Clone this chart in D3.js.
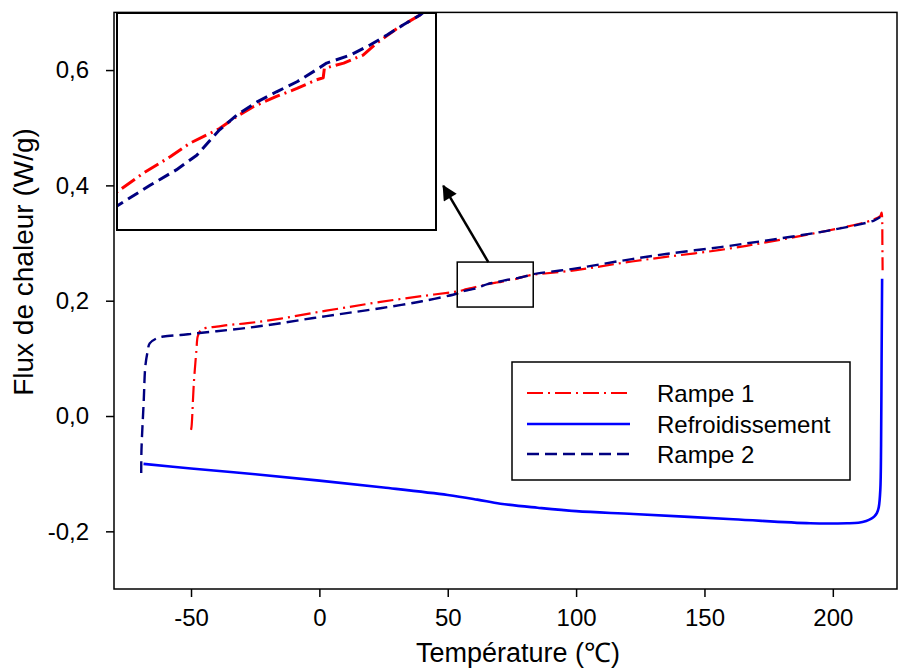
<!DOCTYPE html>
<html>
<head>
<meta charset="utf-8">
<script src="https://cdn.jsdelivr.net/npm/d3@7/dist/d3.min.js"></script>
<style>
  html, body { margin: 0; padding: 0; background: #fff; }
  svg { display: block; }
  text { font-family: "Liberation Sans", Arial, sans-serif; fill: #000; }
</style>
</head>
<body>
<svg id="chart" width="900" height="669"></svg>
<script>
// ---------------- data ----------------
const seriesNames = ["Rampe 1", "Refroidissement", "Rampe 2"];

const rampe1Temp = [-50.0, -49.8, -48.9, -47.9, -47.4, -46.5, -45.5, -44.0, -40.0, -35.0, -28.0, -15.0, -2.3, 10.0, 23.8, 40.0, 53.7,
  55.0, 57.3, 59.7, 61.4, 63.2, 64.0, 65.5, 67.0, 69.0, 70.8, 72.5, 73.1, 73.2, 74.9, 76.6, 77.8, 79.6, 81.6, 83.3,
  100, 117.2, 135, 156.2, 175, 195.1, 210, 216, 218.5, 219.0, 219.2, 219.3, 219.4];
const rampe1Flux = [-0.024, -0.019, 0.057, 0.114, 0.138, 0.147, 0.151, 0.153, 0.155, 0.158, 0.161, 0.169, 0.179, 0.188, 0.198, 0.208, 0.216,
  0.2172, 0.2200, 0.2225, 0.2245, 0.2260, 0.2267, 0.2285, 0.2300, 0.2315, 0.2327, 0.2340, 0.2343, 0.2357, 0.2365, 0.2377, 0.2395, 0.2417, 0.2437, 0.245,
  0.253, 0.265, 0.276, 0.288, 0.302, 0.319, 0.333, 0.341, 0.347, 0.353, 0.345, 0.300, 0.253];

const coolTemp = [219.2, 219.0, 218.8, 218.5, 217.9, 217.2, 216.2, 215.0, 213.0, 210.0, 205.6, 191.2, 161.2, 122.3, 100, 85, 70.5, 61.5,
  50, 25, 0, -25, -50, -68.5];
const coolFlux = [0.238, 0.100, -0.050, -0.128, -0.158, -0.168, -0.174, -0.178, -0.182, -0.185, -0.186, -0.186, -0.179, -0.170, -0.165, -0.159, -0.152, -0.145,
  -0.137, -0.124, -0.112, -0.101, -0.091, -0.083];

const rampe2Temp = [-69.4, -69.3, -68.4, -67.8, -66.9, -66.1, -63.2, -60.6, -54.1, -48.9, -40, -28, -15, -2.3, 10, 23.8, 40, 53.7,
  55.0, 57.9, 60.2, 62.0, 63.2, 64.0, 65.5, 67.3, 69.0, 70.8, 72.5, 73.4, 75.5, 77.2, 78.7, 80.1, 81.6, 83.3,
  100, 117.2, 135, 156.2, 175, 195.1, 210, 216, 218.5];
const rampe2Flux = [-0.099, -0.059, 0.028, 0.086, 0.112, 0.126, 0.135, 0.138, 0.1405, 0.143, 0.147, 0.153, 0.161, 0.170, 0.178, 0.187, 0.199, 0.2125,
  0.2151, 0.2182, 0.2205, 0.2227, 0.2250, 0.2265, 0.2287, 0.2307, 0.2322, 0.2337, 0.2355, 0.2365, 0.2377, 0.2392, 0.2407, 0.2422, 0.2437, 0.246,
  0.256, 0.269, 0.281, 0.293, 0.305, 0.319, 0.332, 0.339, 0.345];

const xTicks = [-50, 0, 50, 100, 150, 200];
const yTicks = [-0.2, 0.0, 0.2, 0.4, 0.6];
const xDomain = [-80, 225];
const yDomain = [-0.3, 0.7];

// zoomed region (main-chart data coordinates) and inset domains
const zoomBoxT = [53.7, 83.3];
const zoomBoxFlux = [0.189, 0.267];
const insetXDomain = [55, 83];
const insetYDomain = [0.2115, 0.244];
const arrowFrom = [65.8, 0.267];
const arrowTo = [48.3, 0.399];

// ---------------- layout ----------------
const svg = d3.select("#chart");
const plot = { left: 114, right: 897, top: 12.4, bottom: 589 };
const inset = { left: 117, right: 436, top: 13, bottom: 230 };

const x = d3.scaleLinear().domain(xDomain).range([plot.left, plot.right]);
const y = d3.scaleLinear().domain(yDomain).range([plot.bottom, plot.top]);
const xi = d3.scaleLinear().domain(insetXDomain).range([inset.left, inset.right]);
const yi = d3.scaleLinear().domain(insetYDomain).range([inset.bottom, inset.top]);

const zip = (a, b) => a.map((v, i) => [v, b[i]]);
const series = [
  { name: seriesNames[0], data: zip(rampe1Temp, rampe1Flux), color: "#ff0000", dash: "16,5,2,5", width: 2.2 },
  { name: seriesNames[1], data: zip(coolTemp, coolFlux), color: "#0000ff", dash: null, width: 2.6 },
  { name: seriesNames[2], data: zip(rampe2Temp, rampe2Flux), color: "#000080", dash: "12,6", width: 2.4 }
];

const defs = svg.append("defs");
defs.append("clipPath").attr("id", "clipMain").append("rect")
  .attr("x", plot.left).attr("y", plot.top).attr("width", plot.right - plot.left).attr("height", plot.bottom - plot.top);
defs.append("clipPath").attr("id", "clipInset").append("rect")
  .attr("x", inset.left).attr("y", inset.top).attr("width", inset.right - inset.left).attr("height", inset.bottom - inset.top);
defs.append("marker").attr("id", "arrowHead").attr("viewBox", "0 0 10 10")
  .attr("refX", 9).attr("refY", 5).attr("markerWidth", 7).attr("markerHeight", 6)
  .attr("markerUnits", "strokeWidth").attr("orient", "auto")
  .append("path").attr("d", "M0,0 L10,5 L0,10 Z").attr("fill", "#000");

// main lines
const lineMain = d3.line().curve(d3.curveCatmullRom.alpha(0.5)).x(d => x(d[0])).y(d => y(d[1]));
const gMain = svg.append("g").attr("clip-path", "url(#clipMain)");
series.forEach(s => {
  gMain.append("path").attr("d", lineMain(s.data))
    .attr("fill", "none").attr("stroke", s.color).attr("stroke-width", s.width)
    .attr("stroke-dasharray", s.dash).attr("stroke-linejoin", "round");
});

// axes
const fmt = v => d3.format(".1f")(v).replace(".", ",").replace("−", "-");
const xAxis = svg.append("g").attr("transform", `translate(0,${plot.bottom})`)
  .call(d3.axisBottom(x).tickValues(xTicks).tickSize(8).tickSizeOuter(0).tickPadding(12).tickFormat(d => String(d)));
const yAxis = svg.append("g").attr("transform", `translate(${plot.left},0)`)
  .call(d3.axisLeft(y).tickValues(yTicks).tickSize(8).tickSizeOuter(0).tickPadding(17).tickFormat(fmt));
[xAxis, yAxis].forEach(g => {
  g.select(".domain").remove();
  g.selectAll("line").attr("stroke", "#000").attr("stroke-width", 1.5);
  g.selectAll("text").attr("font-size", 24).attr("font-family", "Liberation Sans, Arial, sans-serif").attr("fill", "#000");
});

// frame
svg.append("rect").attr("x", plot.left).attr("y", plot.top)
  .attr("width", plot.right - plot.left).attr("height", plot.bottom - plot.top)
  .attr("fill", "none").attr("stroke", "#000").attr("stroke-width", 1.5);

// axis titles
svg.append("text").attr("x", 518).attr("y", 662)
  .attr("text-anchor", "middle").attr("font-size", 27).text("Température (℃)");
svg.append("text").attr("transform", `translate(33,262) rotate(-90)`)
  .attr("text-anchor", "middle").attr("font-size", 28).text("Flux de chaleur (W/g)");

// zoom box and arrow
svg.append("rect").attr("x", x(zoomBoxT[0])).attr("y", y(zoomBoxFlux[1]))
  .attr("width", x(zoomBoxT[1]) - x(zoomBoxT[0])).attr("height", y(zoomBoxFlux[0]) - y(zoomBoxFlux[1]))
  .attr("fill", "none").attr("stroke", "#000").attr("stroke-width", 1.5);
svg.append("line").attr("x1", x(arrowFrom[0])).attr("y1", y(arrowFrom[1]))
  .attr("x2", x(arrowTo[0])).attr("y2", y(arrowTo[1]))
  .attr("stroke", "#000").attr("stroke-width", 2.5).attr("marker-end", "url(#arrowHead)");

// inset
svg.append("rect").attr("x", inset.left).attr("y", inset.top)
  .attr("width", inset.right - inset.left).attr("height", inset.bottom - inset.top)
  .attr("fill", "#fff");
const lineInset = d3.line().x(d => xi(d[0])).y(d => yi(d[1]));
const gInset = svg.append("g").attr("clip-path", "url(#clipInset)");
[series[0], series[2]].forEach(s => {
  gInset.append("path").attr("d", lineInset(s.data))
    .attr("fill", "none").attr("stroke", s.color).attr("stroke-width", 3)
    .attr("stroke-dasharray", s.dash).attr("stroke-linejoin", "round");
});
svg.append("rect").attr("x", inset.left).attr("y", inset.top)
  .attr("width", inset.right - inset.left).attr("height", inset.bottom - inset.top)
  .attr("fill", "none").attr("stroke", "#000").attr("stroke-width", 2);

// legend
const leg = { left: 512, top: 362, right: 850, bottom: 480 };
svg.append("rect").attr("x", leg.left).attr("y", leg.top)
  .attr("width", leg.right - leg.left).attr("height", leg.bottom - leg.top)
  .attr("fill", "#fff").attr("stroke", "#000").attr("stroke-width", 1.5);
const legRowsY = [393, 424, 454];
series.forEach((s, i) => {
  svg.append("line").attr("x1", 527).attr("x2", 630).attr("y1", legRowsY[i]).attr("y2", legRowsY[i])
    .attr("stroke", s.color).attr("stroke-width", s.width).attr("stroke-dasharray", s.dash);
  svg.append("text").attr("x", 657).attr("y", legRowsY[i]).attr("dy", "0.36em")
    .attr("font-size", 24).text(s.name);
});
</script>
</body>
</html>
